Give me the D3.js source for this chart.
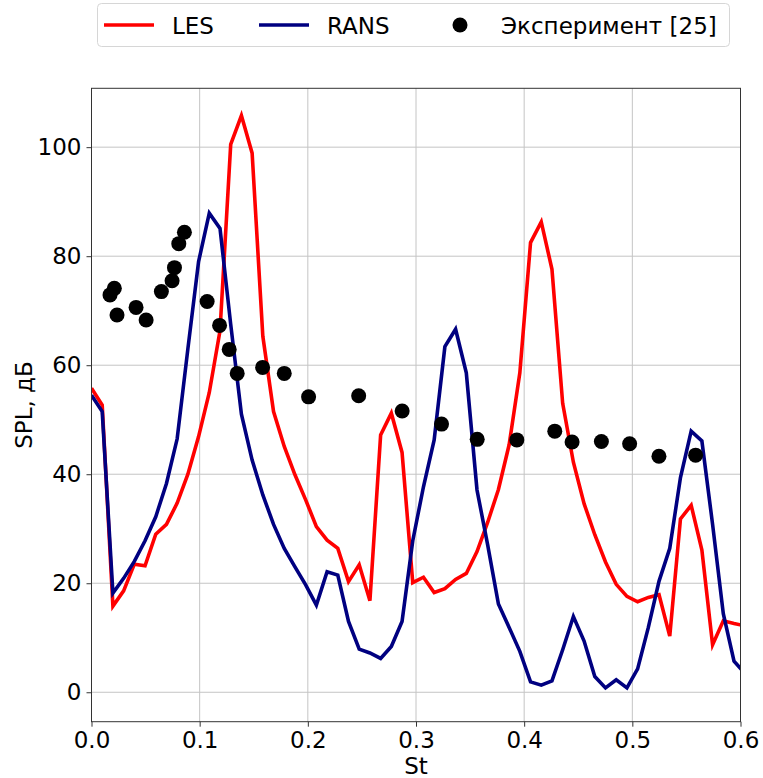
<!DOCTYPE html>
<html>
<head>
<meta charset="utf-8">
<script src="https://cdn.jsdelivr.net/npm/d3@7"></script>
<style>
  html, body { margin: 0; padding: 0; background: #fff; }
  svg { display: block; font-family: "DejaVu Sans", sans-serif; }
</style>
</head>
<body>
<svg id="chart" width="763" height="778"></svg>
<script>
// Strouhal numbers of the computed spectra
const st = [0.0000, 0.0099, 0.0198, 0.0297, 0.0396, 0.0495, 0.0594, 0.0693, 0.0792, 0.0891,
            0.0990, 0.1089, 0.1188, 0.1287, 0.1386, 0.1485, 0.1584, 0.1683, 0.1782, 0.1881,
            0.1980, 0.2079, 0.2178, 0.2277, 0.2376, 0.2475, 0.2574, 0.2673, 0.2772, 0.2871,
            0.2970, 0.3069, 0.3168, 0.3267, 0.3366, 0.3465, 0.3564, 0.3663, 0.3762, 0.3861,
            0.3960, 0.4059, 0.4158, 0.4257, 0.4356, 0.4455, 0.4554, 0.4653, 0.4752, 0.4851,
            0.4950, 0.5049, 0.5148, 0.5247, 0.5346, 0.5445, 0.5544, 0.5643, 0.5742, 0.5841,
            0.5940, 0.6039];

// SPL, dB — LES
const les = [55.8, 52.7, 15.8, 18.6, 23.5, 23.2, 29.0, 30.8, 34.7, 40.0,
             46.9, 55.0, 66.3, 100.5, 105.8, 98.9, 65.3, 51.5, 45.1, 39.9,
             35.3, 30.4, 27.9, 26.4, 20.3, 23.4, 16.8, 47.2, 51.2, 44.0,
             20.1, 21.1, 18.3, 19.0, 20.7, 21.8, 25.8, 31.2, 37.2, 45.4,
             58.6, 82.5, 86.3, 77.6, 53.0, 42.2, 34.6, 28.9, 23.9, 19.8,
             17.6, 16.6, 17.4, 17.9, 10.3, 31.8, 34.3, 26.1, 8.7, 13.1,
             12.6, 12.2];

// SPL, dB — RANS
const rans = [54.5, 51.5, 18.2, 20.9, 24.0, 27.8, 32.2, 38.3, 46.5, 63.0,
              79.0, 87.9, 85.1, 67.5, 51.0, 42.6, 36.2, 30.8, 26.4, 23.0,
              19.7, 16.0, 22.1, 21.5, 13.0, 7.9, 7.2, 6.2, 8.4, 13.0,
              27.8, 37.7, 46.3, 63.4, 66.6, 58.6, 37.1, 27.0, 16.2, 11.9,
              7.5, 1.9, 1.3, 2.1, 7.8, 13.9, 9.4, 2.9, 0.8, 2.3,
              0.8, 4.3, 11.9, 20.4, 26.4, 39.4, 47.9, 46.1, 30.8, 14.4,
              5.7, 3.5];

// Measured spectrum [25]
const expSt  = [0.0171, 0.0211, 0.0236, 0.0412, 0.0505, 0.0646, 0.0745, 0.0767, 0.0807, 0.0859,
                0.1069, 0.1184, 0.1273, 0.1347, 0.1582, 0.1782, 0.2007, 0.2470, 0.2872, 0.3236,
                0.3566, 0.3932, 0.4283, 0.4443, 0.4714, 0.4975, 0.5246, 0.5585];
const expSpl = [72.9, 74.1, 69.2, 70.6, 68.3, 73.5, 75.5, 77.9, 82.3, 84.4,
                71.7, 67.3, 62.9, 58.5, 59.6, 58.5, 54.2, 54.4, 51.6, 49.2,
                46.4, 46.3, 47.9, 45.9, 46.0, 45.6, 43.3, 43.5];

const xTicks = [0, 0.1, 0.2, 0.3, 0.4, 0.5, 0.6];
const yTicks = [0, 20, 40, 60, 80, 100];

const seriesNames = ["LES", "RANS", "Эксперимент [25]"];
const seriesColors = ["#ff0000", "#000080", "#000000"];

const FONT = "23px";

const svg = d3.select("#chart");
const W = 763, H = 778;
const plot = { left: 91.5, right: 740.5, top: 88.3, bottom: 721.7 };

svg.append("rect").attr("width", W).attr("height", H).attr("fill", "#fff");

const x = d3.scaleLinear().domain([0, 0.6]).range([plot.left, plot.right]);
const y = d3.scaleLinear().domain([-5.4, 110.8]).range([plot.bottom, plot.top]);

// grid
const grid = svg.append("g").attr("stroke", "#c4c4c4").attr("stroke-width", 1);
grid.selectAll("line.gx").data(xTicks).join("line")
  .attr("x1", d => x(d)).attr("x2", d => x(d))
  .attr("y1", plot.top).attr("y2", plot.bottom);
grid.selectAll("line.gy").data(yTicks).join("line")
  .attr("x1", plot.left).attr("x2", plot.right)
  .attr("y1", d => y(d)).attr("y2", d => y(d));

// clip region for the curves
svg.append("defs").append("clipPath").attr("id", "clip")
  .append("rect")
  .attr("x", plot.left).attr("y", plot.top)
  .attr("width", plot.right - plot.left).attr("height", plot.bottom - plot.top);

const line = d3.line().x(d => x(d[0])).y(d => y(d[1]));
const curves = svg.append("g").attr("clip-path", "url(#clip)");

curves.append("path")
  .datum(st.map((s, i) => [s, les[i]]))
  .attr("d", line).attr("fill", "none")
  .attr("stroke", seriesColors[0]).attr("stroke-width", 3.6)
  .attr("stroke-linejoin", "miter");

curves.append("path")
  .datum(st.map((s, i) => [s, rans[i]]))
  .attr("d", line).attr("fill", "none")
  .attr("stroke", seriesColors[1]).attr("stroke-width", 3.6)
  .attr("stroke-linejoin", "miter");

curves.selectAll("circle.exp")
  .data(expSt.map((s, i) => [s, expSpl[i]]))
  .join("circle")
  .attr("cx", d => x(d[0])).attr("cy", d => y(d[1]))
  .attr("r", 7.5).attr("fill", seriesColors[2]);

// frame
svg.append("rect")
  .attr("x", plot.left).attr("y", plot.top)
  .attr("width", plot.right - plot.left).attr("height", plot.bottom - plot.top)
  .attr("fill", "none").attr("stroke", "#333").attr("stroke-width", 1);

// axes
const xAxis = svg.append("g")
  .attr("transform", `translate(0,${plot.bottom})`)
  .call(d3.axisBottom(x).tickValues(xTicks).tickFormat(d3.format(".1f"))
        .tickSize(5).tickPadding(5));
const yAxis = svg.append("g")
  .attr("transform", `translate(${plot.left},0)`)
  .call(d3.axisLeft(y).tickValues(yTicks).tickFormat(d3.format("d"))
        .tickSize(5).tickPadding(5));

[xAxis, yAxis].forEach(a => {
  a.select(".domain").remove();
  a.selectAll(".tick line").attr("stroke", "#333");
  a.selectAll(".tick text")
    .attr("fill", "#000")
    .style("font-family", "'DejaVu Sans', sans-serif")
    .style("font-size", FONT);
});

// axis titles
svg.append("text")
  .attr("x", (plot.left + plot.right) / 2).attr("y", 774)
  .attr("text-anchor", "middle")
  .style("font-size", FONT)
  .text("St");

svg.append("text")
  .attr("transform", `translate(32,${(plot.top + plot.bottom) / 2}) rotate(-90)`)
  .attr("text-anchor", "middle")
  .style("font-size", FONT)
  .text("SPL, дБ");

// legend
const legend = svg.append("g");
legend.append("rect")
  .attr("x", 97.5).attr("y", 3.5).attr("width", 632).attr("height", 43)
  .attr("rx", 4).attr("fill", "#fff").attr("stroke", "#d6d6d6").attr("stroke-width", 1);

const legY = 25;
const items = [
  { kind: "line", x0: 104, x1: 154, tx: 172 },
  { kind: "line", x0: 259, x1: 309, tx: 327 },
  { kind: "dot",  cx: 460, tx: 501 }
];
items.forEach((it, i) => {
  if (it.kind === "line") {
    legend.append("line")
      .attr("x1", it.x0).attr("x2", it.x1)
      .attr("y1", legY).attr("y2", legY)
      .attr("stroke", seriesColors[i]).attr("stroke-width", 3.6);
  } else {
    legend.append("circle")
      .attr("cx", it.cx).attr("cy", legY).attr("r", 7.5)
      .attr("fill", seriesColors[i]);
  }
  legend.append("text")
    .attr("x", it.tx).attr("y", legY + 8.5)
    .style("font-size", FONT)
    .text(seriesNames[i]);
});
</script>
</body>
</html>
